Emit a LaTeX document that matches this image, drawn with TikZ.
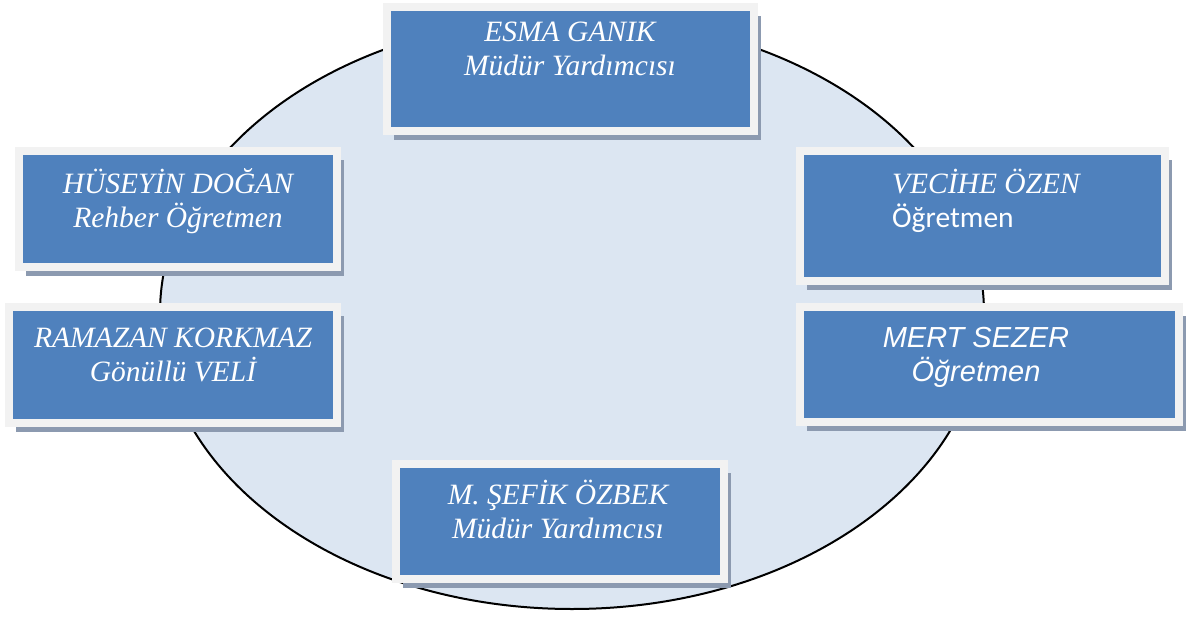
\documentclass[tikz,border=0pt]{standalone}
\usepackage{fontspec}
\setmainfont{Liberation Serif}
\newfontfamily\calibrifont{Carlito}
\newfontfamily\arialfont{Liberation Sans}
\usetikzlibrary{shadows,shapes.geometric}
\definecolor{cardblue}{HTML}{4F81BD}
\definecolor{cardrim}{HTML}{F2F2F2}
\definecolor{cardshade}{HTML}{8C9AB0}
\definecolor{ringfill}{HTML}{DCE6F2}
\begin{document}
\begin{tikzpicture}[x=1pt,y=-1pt,
  ring/.style={ellipse, draw=black, fill=ringfill, line width=2pt, inner sep=0pt},
  card/.style={rectangle, fill=cardblue, draw=cardrim, line width=8pt, inner sep=0pt,
    drop shadow={shadow xshift=7pt, shadow yshift=-9pt, fill=cardshade, opacity=1}},
  cardtext/.style={text=white, font=\fontsize{29.5}{34}\selectfont\itshape, align=center, anchor=base, inner sep=0pt}]
\useasboundingbox (0,0) rectangle (1189,616);
\node[ring, minimum width=824pt, minimum height=592pt] (ring) at (572,313) {};

\path (570.5,69) node[card, minimum width=367pt, minimum height=124pt] (esma){}
 (178,209) node[card, minimum width=318pt, minimum height=116pt] (huseyin){}
 (173,365) node[card, minimum width=328pt, minimum height=116pt] (ramazan){}
 (982.5,216) node[card, minimum width=365pt, minimum height=130pt] (vecihe){}
 (989.5,364.5) node[card, minimum width=379pt, minimum height=115pt] (mert){}
 (560,521.5) node[card, minimum width=328pt, minimum height=115pt] (sefik){};

% the base anchor sits on the last line
\node[cardtext] (esmaT) at (570,75) {ESMA GANIK\\Müdür Yardımcısı};
\node[cardtext] (huseyinT) at (178,227) {HÜSEYİN DOĞAN\\Rehber Öğretmen};
\node[cardtext] (ramazanT) at (173,381) {RAMAZAN KORKMAZ\\Gönüllü VELİ};
\node[cardtext, align=left] (veciheT) at (986,227) {VECİHE ÖZEN\\{\calibrifont\upshape Öğretmen}};
\node[cardtext, font=\fontsize{29}{34}\selectfont\arialfont\itshape] (mertT) at (976,381) {MERT SEZER\\Öğretmen};
\node[cardtext] (sefikT) at (558,538) {M. ŞEFİK ÖZBEK\\Müdür Yardımcısı};
\end{tikzpicture}
\end{document}
